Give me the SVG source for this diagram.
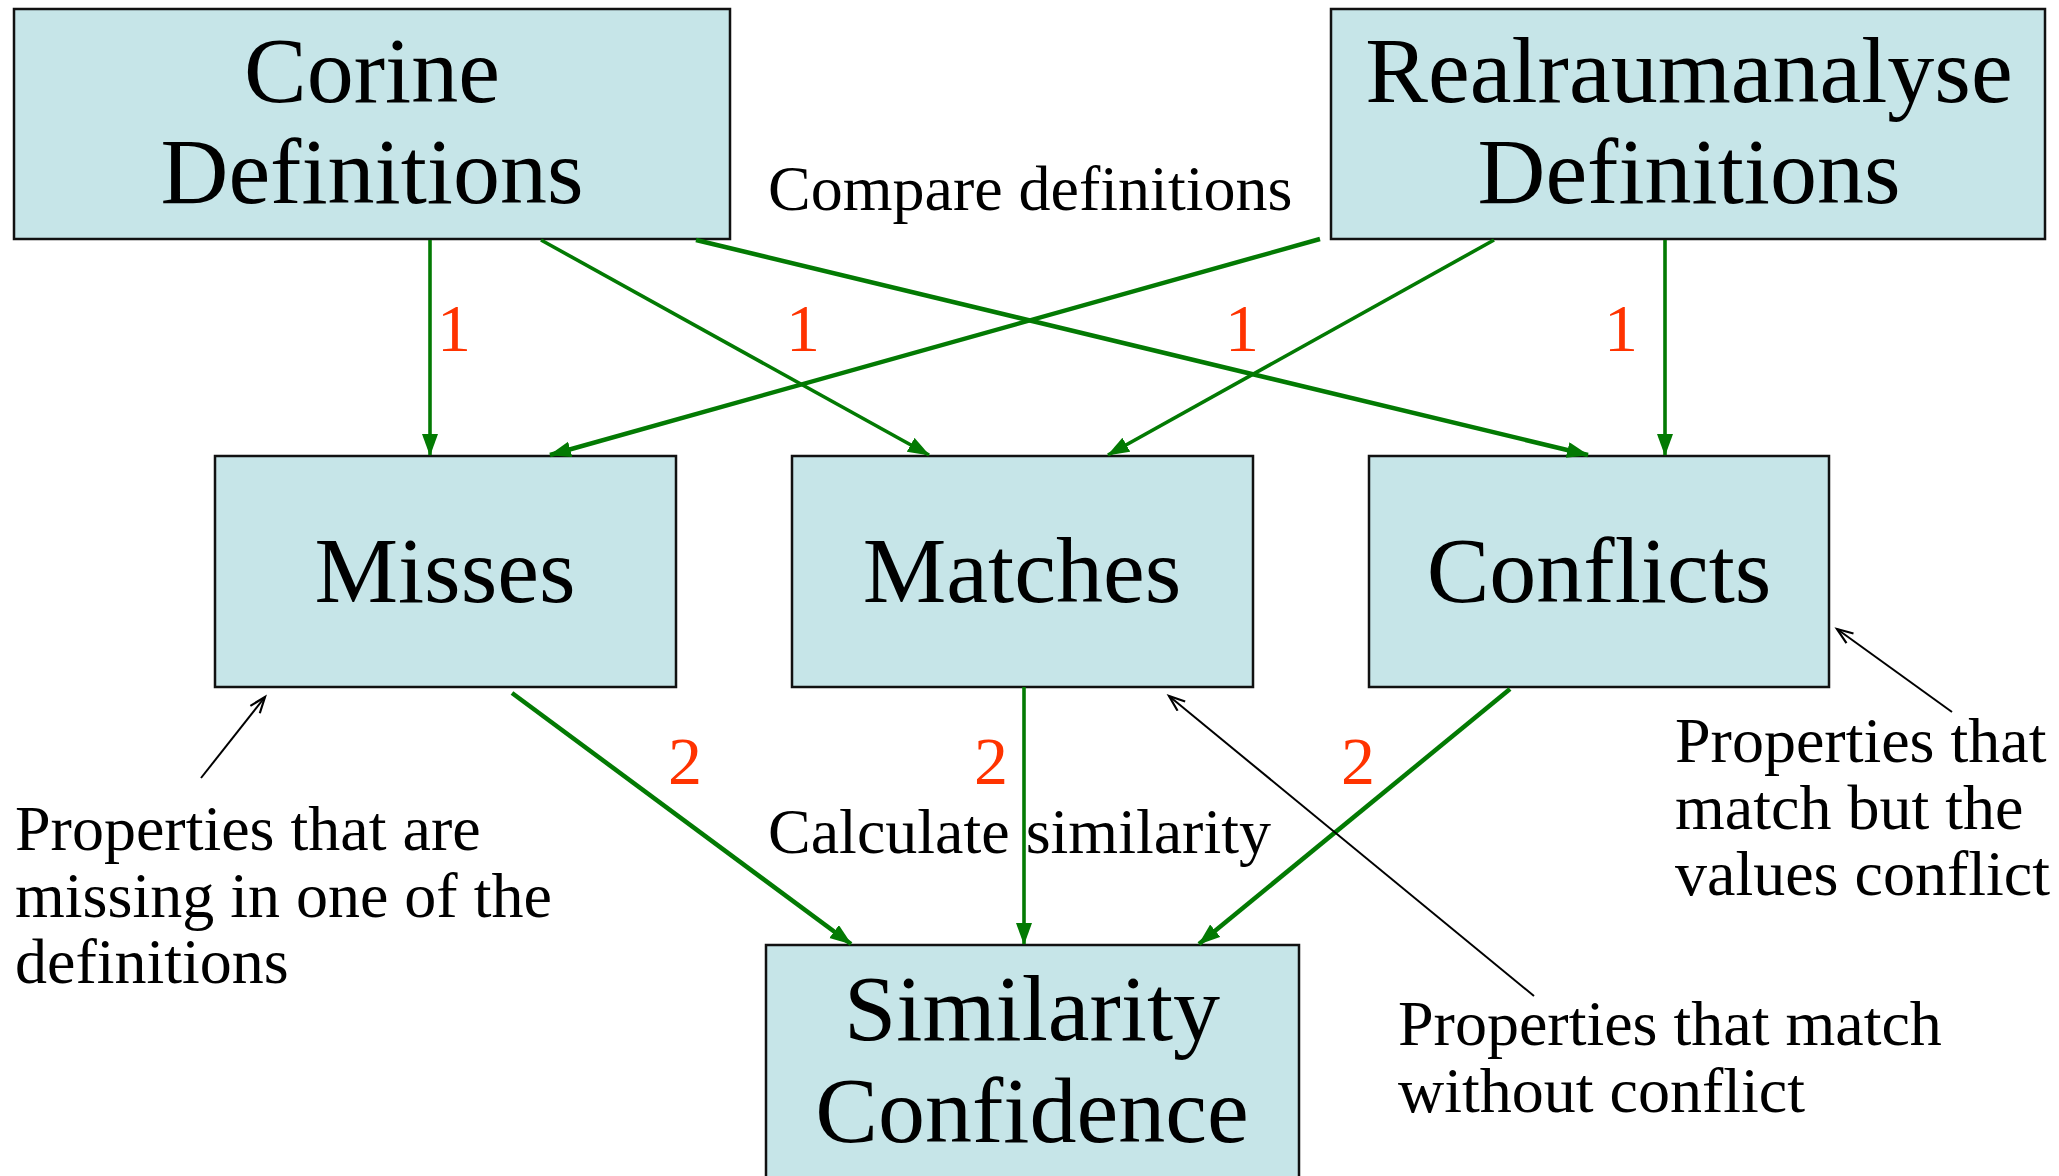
<svg xmlns="http://www.w3.org/2000/svg" width="2059" height="1176" viewBox="0 0 2059 1176">
<style>
.box{fill:#C6E5E8;stroke:#111;stroke-width:2.5}
.big{font-family:"Liberation Serif","Times New Roman",serif;font-size:94px;fill:#000;text-anchor:middle}
.txt{font-family:"Liberation Serif","Times New Roman",serif;font-size:64px;fill:#000}
.num{font-family:"Liberation Serif","Times New Roman",serif;font-size:68px;fill:#FF3300}
.g{stroke:#037A03;stroke-width:4.5;fill:none;marker-end:url(#ga)}
.gt{stroke-width:3.6}
.k{stroke:#000;stroke-width:2;fill:none;marker-end:url(#ka)}
</style>
<defs>
<marker id="ga" markerUnits="userSpaceOnUse" markerWidth="24" markerHeight="18" refX="21" refY="8" orient="auto">
<path d="M0,0 L22,8 L0,16 z" fill="#037A03"/>
</marker>
<marker id="ka" markerUnits="userSpaceOnUse" markerWidth="20" markerHeight="16" refX="17" refY="7" orient="auto">
<path d="M1,1 L17,7 L1,13" fill="none" stroke="#000" stroke-width="2.2"/>
</marker>
</defs>
<rect width="2059" height="1176" fill="#fff"/>
<g id="corine"><rect class="box" x="14" y="9" width="716" height="230"/><text class="big" x="372" y="102">Corine</text><text class="big" x="372" y="203">Definitions</text></g>
<g id="realraum"><rect class="box" x="1331" y="9" width="714" height="230"/><text class="big" x="1689" y="102">Realraumanalyse</text><text class="big" x="1689" y="203">Definitions</text></g>
<g id="misses"><rect class="box" x="215" y="456" width="461" height="231"/><text class="big" x="445" y="602">Misses</text></g>
<g id="matches"><rect class="box" x="792" y="456" width="461" height="231"/><text class="big" x="1022" y="602">Matches</text></g>
<g id="conflicts"><rect class="box" x="1369" y="456" width="460" height="231"/><text class="big" x="1599" y="602">Conflicts</text></g>
<g id="similarity"><rect class="box" x="766" y="945" width="533" height="240"/><text class="big" x="1032" y="1040">Similarity</text><text class="big" x="1032" y="1142">Confidence</text></g>
<g id="connectors">
<line class="g gt" x1="430" y1="240" x2="430" y2="455"/>
<line class="g gt" x1="541" y1="240" x2="929" y2="455"/>
<line class="g" x1="696" y1="240" x2="1588" y2="455"/>
<line class="g" x1="1320" y1="239" x2="550" y2="455" stroke-width="5"/>
<line class="g gt" x1="1494" y1="240" x2="1108" y2="455"/>
<line class="g gt" x1="1665" y1="240" x2="1665" y2="455"/>
<line class="g" x1="512" y1="693" x2="851" y2="944"/>
<line class="g gt" x1="1024" y1="687" x2="1024" y2="944"/>
<line class="g" x1="1510" y1="689" x2="1199" y2="944"/>
<line class="k" x1="201" y1="778" x2="265" y2="697"/>
<line class="k" x1="1534" y1="996" x2="1169" y2="696"/>
<line class="k" x1="1952" y1="712" x2="1837" y2="629"/>
</g>
<g id="labels">
<text class="num" x="437" y="351">1</text>
<text class="num" x="786" y="351">1</text>
<text class="num" x="1225" y="351">1</text>
<text class="num" x="1604" y="351">1</text>
<text class="num" x="668" y="784">2</text>
<text class="num" x="974" y="784">2</text>
<text class="num" x="1341" y="784">2</text>
<text class="txt" x="768" y="210">Compare definitions</text>
<text class="txt" x="768" y="853">Calculate similarity</text>
<text class="txt" x="15" y="850">Properties that are</text>
<text class="txt" x="15" y="917">missing in one of the</text>
<text class="txt" x="15" y="983">definitions</text>
<text class="txt" x="1675" y="762">Properties that</text>
<text class="txt" x="1675" y="829">match but the</text>
<text class="txt" x="1675" y="895">values conflict</text>
<text class="txt" x="1398" y="1045">Properties that match</text>
<text class="txt" x="1398" y="1112">without conflict</text>
</g>
</svg>
